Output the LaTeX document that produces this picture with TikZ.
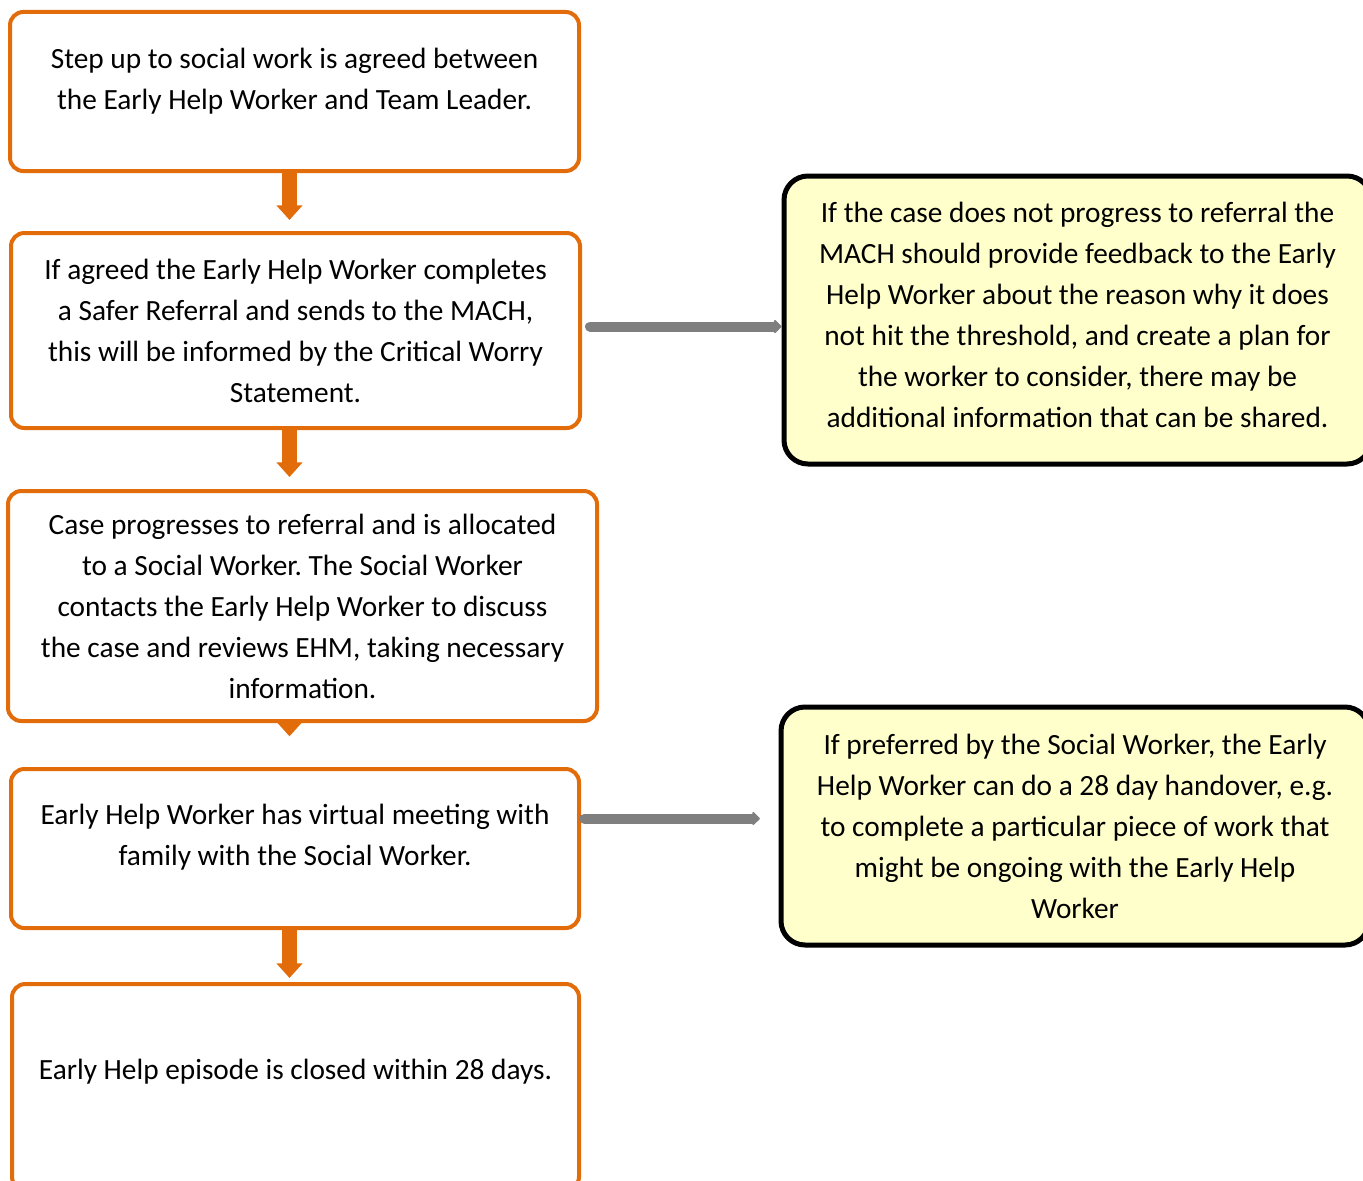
\documentclass[tikz,border=0pt]{standalone}
\usepackage{fontspec}
\setmainfont{Carlito}
\frenchspacing
\usetikzlibrary{arrows.meta}
\definecolor{stepline}{HTML}{E36C0A}
\definecolor{notefill}{HTML}{FFFFCC}
\definecolor{linkgrey}{HTML}{7F7F7F}
% keeps text higher in its box
\newcommand{\lift}[1]{\rule[-#1]{0pt}{#1}}
\tikzset{
  stepbox/.style={draw=stepline, line width=3pt, rounded corners=10pt, align=center, inner sep=0pt},
  notebox/.style={draw=black, fill=notefill, line width=3.75pt, rounded corners=18pt, align=center, inner sep=0pt},
  down/.style={draw=stepline, line width=11pt, -{Triangle[width=19pt,length=11pt]}},
  side/.style={draw=linkgrey, line width=7.5pt, line cap=round, -{Triangle[round,width=11.5pt,length=6pt]}}
}
\begin{document}
\begin{tikzpicture}[x=0.75pt, y=-0.75pt, font=\fontsize{22}{30.75}\selectfont]
\useasboundingbox (0,0) rectangle (1363,1181);
\clip (0,0) rectangle (1363,1181);
\fill[white] (0,0) rectangle (1363,1181);
% steps on the left
\node[stepbox, minimum width=426.75pt, minimum height=119.25pt] (b1) at (294.5,91.5)
  {Step up to social work is agreed between\\the Early Help Worker and Team Leader.\lift{19.5pt}};
\node[stepbox, minimum width=426.75pt, minimum height=146.25pt] (b2) at (295.5,330.5)
  {If agreed the Early Help Worker completes\\a Safer Referral and sends to the MACH,\\this will be informed by the Critical Worry\\Statement.};
\node[stepbox, minimum width=441.75pt, minimum height=172.5pt] (b3) at (302.5,606)
  {Case progresses to referral and is allocated\\to a Social Worker. The Social Worker\\contacts the Early Help Worker to discuss\\the case and reviews EHM, taking necessary\\information.};
\node[stepbox, minimum width=426pt, minimum height=119.25pt] (b4) at (295,848.5)
  {Early Help Worker has virtual meeting with\\family with the Social Worker.\lift{21pt}};
\node[stepbox, minimum width=425.25pt, minimum height=154.5pt] (b5) at (295.5,1087)
  {Early Help episode is closed within 28 days.\lift{27pt}};
% notes on the right
\node[notebox, minimum width=440.25pt, minimum height=216pt] (n1) at (1077.5,320)
  {If the case does not progress to referral the\\MACH should provide feedback to the Early\\Help Worker about the reason why it does\\not hit the threshold, and create a plan for\\the worker to consider, there may be\\additional information that can be shared.\lift{7.5pt}};
\node[notebox, minimum width=441pt, minimum height=178.5pt] (n2) at (1075,826)
  {If preferred by the Social Worker, the Early\\Help Worker can do a 28 day handover, e.g.\\to complete a particular piece of work that\\might be ongoing with the Early Help\\Worker};
% connectors
\coordinate (col) at (289.5,0);
\draw[down, shorten >=8.25pt] (b1.south -| col) -- (b2.north -| col);
\draw[down, shorten >=9pt] (b2.south -| col) -- (b3.north -| col);
\draw[down, shorten >=23pt] (b3.south -| col) -- (b4.north -| col);
\draw[down, shorten >=3pt] (b4.south -| col) -- (b5.north -| col);
\draw[side, shorten <=6pt] ([yshift=3pt]b2.east) -- ([yshift=3pt]b2.east -| n1.west);
\draw[side, shorten <=2.5pt, shorten >=14pt] ([yshift=22.5pt]b4.east) -- ([yshift=22.5pt]b4.east -| n2.west);
\end{tikzpicture}
\end{document}
